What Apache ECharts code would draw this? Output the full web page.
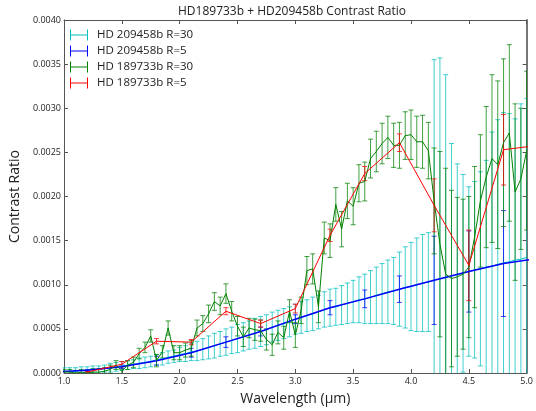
<!DOCTYPE html>
<html>
<head>
<meta charset="utf-8">
<script src="https://cdn.jsdelivr.net/npm/echarts@6/dist/echarts.min.js"></script>
<style>
  html, body { margin: 0; padding: 0; background: #fff; }
  #chart { width: 536px; height: 411px; }
</style>
</head>
<body>
<div id="chart"></div>
<script>
// wavelength grid of the R=30 spectra (um)
const wlR30 = [1.00, 1.05, 1.10, 1.15, 1.20, 1.25, 1.30, 1.35, 1.40, 1.45,
  1.50, 1.55, 1.60, 1.65, 1.70, 1.75, 1.80, 1.85, 1.90, 1.95,
  2.00, 2.05, 2.10, 2.15, 2.20, 2.25, 2.30, 2.35, 2.40, 2.45,
  2.50, 2.55, 2.60, 2.65, 2.70, 2.75, 2.80, 2.85, 2.90, 2.95,
  3.00, 3.05, 3.10, 3.15, 3.20, 3.25, 3.30, 3.35, 3.40, 3.45,
  3.50, 3.55, 3.60, 3.65, 3.70, 3.75, 3.80, 3.85, 3.90, 3.95,
  4.00, 4.05, 4.10, 4.15, 4.20, 4.25, 4.30, 4.35, 4.40, 4.45,
  4.50, 4.55, 4.60, 4.65, 4.70, 4.75, 4.80, 4.85, 4.90, 4.95, 5.00]

// HD 209458b R=30
const hd209R30 = [0.00002, 0.00002, 0.00002, 0.00003, 0.00003, 0.00004, 0.00004, 0.00005, 0.00006, 0.00007,
  0.00008, 0.00009, 0.00010, 0.00011, 0.00012, 0.00013, 0.00015, 0.00016, 0.00018, 0.00019,
  0.00021, 0.00022, 0.00024, 0.00025, 0.00027, 0.00029, 0.00031, 0.00033, 0.00035, 0.00037,
  0.00039, 0.00041, 0.00043, 0.00045, 0.00047, 0.00049, 0.00052, 0.00054, 0.00056, 0.00058,
  0.00061, 0.00063, 0.00065, 0.00067, 0.00069, 0.00072, 0.00074, 0.00075, 0.00077, 0.00079,
  0.00081, 0.00083, 0.00084, 0.00086, 0.00088, 0.00090, 0.00092, 0.00093, 0.00095, 0.00097,
  0.00098, 0.00100, 0.00102, 0.00103, 0.00105, 0.00107, 0.00108, 0.00110, 0.00112, 0.00113,
  0.00115, 0.00117, 0.00118, 0.00120, 0.00121, 0.00123, 0.00125, 0.00126, 0.00128, 0.00129, 0.00131]
const hd209R30Err = [0.00004, 0.00004, 0.00004, 0.00004, 0.00004, 0.00004, 0.00004, 0.00004, 0.00005, 0.00005,
  0.00005, 0.00005, 0.00005, 0.00006, 0.00006, 0.00006, 0.00006, 0.00007, 0.00007, 0.00007,
  0.00008, 0.00009, 0.00010, 0.00011, 0.00012, 0.00013, 0.00014, 0.00014, 0.00015, 0.00015,
  0.00016, 0.00016, 0.00016, 0.00017, 0.00017, 0.00017, 0.00017, 0.00017, 0.00017, 0.00017,
  0.00017, 0.00018, 0.00018, 0.00019, 0.00019, 0.00020, 0.00021, 0.00021, 0.00022, 0.00023,
  0.00024, 0.00026, 0.00028, 0.00030, 0.00032, 0.00034, 0.00036, 0.00038, 0.00042, 0.00046,
  0.00050, 0.00053, 0.00055, 0.00056, 0.00250, 0.00250, 0.00230, 0.00150, 0.00125, 0.00112,
  0.00096, 0.00100, 0.00110, 0.00121, 0.00152, 0.00164, 0.00170, 0.00168, 0.00160, 0.00176, 0.00180]

// HD 189733b R=30
const hd189R30 = [0.00001, 0.00001, 0.00000, 0.00001, 0.00000, 0.00001, 0.00001, 0.00002, 0.00004, 0.00009,
  0.00002, 0.00009, 0.00012, 0.00022, 0.00029, 0.00042, 0.00014, 0.00024, 0.00051, 0.00023,
  0.00023, 0.00026, 0.00028, 0.00051, 0.00056, 0.00067, 0.00081, 0.00076, 0.00090, 0.00070,
  0.00053, 0.00041, 0.00051, 0.00049, 0.00048, 0.00038, 0.00032, 0.00046, 0.00040, 0.00070,
  0.00043, 0.00071, 0.00116, 0.00118, 0.00075, 0.00153, 0.00150, 0.00191, 0.00163, 0.00195,
  0.00189, 0.00215, 0.00217, 0.00243, 0.00251, 0.00260, 0.00267, 0.00258, 0.00258, 0.00269,
  0.00270, 0.00262, 0.00262, 0.00252, 0.00195, 0.00146, 0.00112, 0.00107, 0.00109, 0.00112,
  0.00120, 0.00154, 0.00195, 0.00222, 0.00243, 0.00236, 0.00261, 0.00272, 0.00205, 0.00220, 0.00252]
const hd189R30Err = [0.00003, 0.00003, 0.00003, 0.00003, 0.00003, 0.00004, 0.00004, 0.00004, 0.00005, 0.00005,
  0.00005, 0.00005, 0.00006, 0.00006, 0.00006, 0.00007, 0.00007, 0.00007, 0.00008, 0.00008,
  0.00008, 0.00008, 0.00009, 0.00009, 0.00009, 0.00010, 0.00010, 0.00010, 0.00011, 0.00011,
  0.00011, 0.00011, 0.00011, 0.00012, 0.00012, 0.00012, 0.00012, 0.00013, 0.00013, 0.00013,
  0.00014, 0.00015, 0.00016, 0.00017, 0.00018, 0.00018, 0.00019, 0.00019, 0.00020, 0.00020,
  0.00021, 0.00021, 0.00022, 0.00022, 0.00023, 0.00023, 0.00024, 0.00025, 0.00026, 0.00027,
  0.00028, 0.00029, 0.00030, 0.00032, 0.00060, 0.00105, 0.00120, 0.00100, 0.00090, 0.00085,
  0.00080, 0.00080, 0.00075, 0.00080, 0.00095, 0.00095, 0.00095, 0.00100, 0.00100, 0.00080, 0.00090]

// R=5 bins (um)
const wlR5 = [0.9, 1.2, 1.5, 1.8, 2.1, 2.4, 2.7, 3.0, 3.3, 3.6, 3.9, 4.2, 4.5, 4.8, 5.1]
const hd209R5 = [0.00001, 0.00003, 0.00007, 0.00014, 0.00023, 0.00035, 0.00047, 0.00061,
  0.00074, 0.00084, 0.00095, 0.00105, 0.00115, 0.00124, 0.00130]
const hd209R5Err = [0.00001, 0.00001, 0.00002, 0.00005, 0.00005, 0.00006, 0.00005, 0.00005,
  0.00008, 0.00010, 0.00015, 0.00050, 0.00046, 0.00060, 0.00060]

const wlR5b = [1.2, 1.5, 1.8, 2.1, 2.4, 2.7, 3.0, 3.3, 3.6, 3.9, 4.2, 4.5, 4.8, 5.1]
const hd189R5 = [0.00001, 0.00010, 0.00036, 0.00035, 0.00070, 0.00056, 0.00073,
  0.00156, 0.00226, 0.00261, 0.00190, 0.00122, 0.00253, 0.00258]
const hd189R5Err = [0.00001, 0.00003, 0.00003, 0.00003, 0.00004, 0.00004, 0.00005,
  0.00007, 0.00008, 0.00010, 0.00030, 0.00040, 0.00040, 0.00040]

const names = ['HD 209458b R=30', 'HD 209458b R=5', 'HD 189733b R=30', 'HD 189733b R=5']
const colors = ['#00bfbf', '#0000ff', '#008000', '#ff0000']

const font = 'Open Sans'
const ink = '#222'
const frame = '#555'
const errIcon = 'path://M0,0h1v11h-1z M0,5h18v1h-18z M17,0h1v11h-1z'

function errorBars(color) {
  return function (params, api) {
    const x = api.value(0)
    const y = api.value(1)
    const e = api.value(2)
    const top = api.coord([x, y + e])
    const bot = api.coord([x, y - e])
    const cap = 2.5
    const style = { stroke: color, lineWidth: 1, opacity: 0.75 }
    return {
      type: 'group',
      children: [
        { type: 'line', shape: { x1: top[0], y1: top[1], x2: bot[0], y2: bot[1] }, style },
        { type: 'line', shape: { x1: top[0] - cap, y1: top[1], x2: top[0] + cap, y2: top[1] }, style },
        { type: 'line', shape: { x1: bot[0] - cap, y1: bot[1], x2: bot[0] + cap, y2: bot[1] }, style }
      ]
    }
  }
}

function spectrum(i, xs, ys, errs, width) {
  return [{
    name: names[i],
    type: 'custom',
    clip: true,
    renderItem: errorBars(colors[i]),
    encode: { x: 0, y: 1 },
    data: xs.map((x, k) => [x, ys[k], errs[k]]),
    itemStyle: { color: colors[i] },
    silent: true
  }, {
    name: names[i],
    type: 'line',
    showSymbol: false,
    clip: true,
    data: xs.map((x, k) => [x, ys[k]]),
    itemStyle: { color: colors[i] },
    lineStyle: { color: colors[i], width: width },
    silent: true
  }]
}

const chart = echarts.init(document.getElementById('chart'))

const tickStyle = { inside: true, length: 4, lineStyle: { color: frame } }
const lineStyle = { show: true, onZero: false, lineStyle: { color: frame, width: 1 } }

chart.setOption({
  animation: false,
  backgroundColor: '#fff',
  title: {
    text: 'HD189733b + HD209458b Contrast Ratio',
    left: 173,
    top: 1,
    textStyle: { fontFamily: font, fontSize: 12, fontWeight: 'normal', color: ink }
  },
  legend: {
    orient: 'vertical',
    left: 65,
    top: 24,
    itemWidth: 18,
    itemHeight: 11,
    itemGap: 4,
    textStyle: { fontFamily: font, fontSize: 11.5, color: ink, lineHeight: 11, padding: [0, 0, 0, 4] },
    data: names.map((n, i) => ({ name: n, icon: errIcon, itemStyle: { color: colors[i] } }))
  },
  grid: { left: 59, right: 5, top: 20, bottom: 34, containLabel: false },
  xAxis: [{
    type: 'value', min: 1, max: 5, interval: 0.5, position: 'bottom',
    axisLine: lineStyle, axisTick: tickStyle, splitLine: { show: false },
    axisLabel: { fontFamily: font, fontSize: 9, color: ink, margin: 4, formatter: v => v.toFixed(1) },
    name: 'Wavelength (μm)',
    nameLocation: 'middle',
    nameGap: 19,
    nameTextStyle: { fontFamily: font, fontSize: 14, color: ink }
  }, {
    type: 'value', min: 1, max: 5, interval: 0.5, position: 'top',
    axisLine: lineStyle, axisTick: tickStyle, splitLine: { show: false },
    axisLabel: { show: false }
  }],
  yAxis: [{
    type: 'value', min: 0, max: 0.004, interval: 0.0005, position: 'left',
    axisLine: lineStyle, axisTick: tickStyle, splitLine: { show: false },
    axisLabel: { fontFamily: font, fontSize: 9, color: ink, margin: 3, formatter: v => v.toFixed(4) },
    name: 'Contrast Ratio',
    nameLocation: 'middle',
    nameGap: 31,
    nameRotate: 90,
    nameTextStyle: { fontFamily: font, fontSize: 14, color: ink }
  }, {
    type: 'value', min: 0, max: 0.004, interval: 0.0005, position: 'right',
    axisLine: { show: true, onZero: false, lineStyle: { color: '#777', width: 2 } },
    axisTick: tickStyle, splitLine: { show: false },
    axisLabel: { show: false }
  }],
  series: [
    ...spectrum(0, wlR30, hd209R30, hd209R30Err, 1),
    ...spectrum(1, wlR5, hd209R5, hd209R5Err, 1.5),
    ...spectrum(2, wlR30, hd189R30, hd189R30Err, 1),
    ...spectrum(3, wlR5b, hd189R5, hd189R5Err, 1)
  ]
})
</script>
</body>
</html>
